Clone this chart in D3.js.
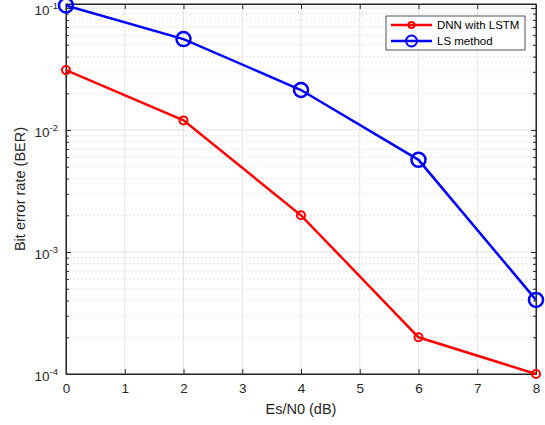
<!DOCTYPE html>
<html><head><meta charset="utf-8">
<script src="https://cdn.jsdelivr.net/npm/d3@7"></script>
<style>body{margin:0;background:#fff;} text{font-family:"Liberation Sans",Arial,Helvetica,sans-serif;}</style>
</head><body>
<svg id="c" width="545" height="425"></svg>
<script>
const snr = [0, 2, 4, 6, 8];
const berDNN = [0.031, 0.012, 0.002, 0.0002, 0.0001];
const berLS = [0.105, 0.0557, 0.0213, 0.0057, 0.000405];
const xTicks = [0,1,2,3,4,5,6,7,8];
const yTicks = [1e-4, 1e-3, 1e-2, 1e-1];
const yExps = ["-4","-3","-2","-1"];
const seriesNames = ["DNN with LSTM", "LS method"];

const svg = d3.select("#c");
const L = 66, R = 536, T = 4, B = 374;
const x = d3.scaleLinear().domain([0, 8]).range([L, R]);
const y = d3.scaleLog().domain([1e-4, 0.108]).range([B, T]);

const axisCol = "#262626";
const g = svg.append("g");

// minor horizontal dotted grid
const minors = [];
for (let e = -4; e <= -1; e++) for (let m = 2; m <= 9; m++) { const v = m * Math.pow(10, e); if (v < 0.108) minors.push(v); }
g.selectAll(".mg").data(minors).enter().append("line")
  .attr("x1", L).attr("x2", R).attr("y1", d => y(d)).attr("y2", d => y(d))
  .attr("stroke", "#d0d0d0").attr("stroke-width", 1).attr("stroke-dasharray", "1,3");
// major grid
g.selectAll(".gx").data(xTicks).enter().append("line")
  .attr("x1", d => x(d)).attr("x2", d => x(d)).attr("y1", T).attr("y2", B)
  .attr("stroke", "#e3e3e3").attr("stroke-width", 1);
g.selectAll(".gy").data(yTicks).enter().append("line")
  .attr("x1", L).attr("x2", R).attr("y1", d => y(d)).attr("y2", d => y(d))
  .attr("stroke", "#e3e3e3").attr("stroke-width", 1);

// axes with inward ticks
const xb = d3.axisBottom(x).tickValues(xTicks).tickSizeInner(-5).tickSizeOuter(0).tickPadding(9).tickFormat(d3.format("d"));
const gxb = svg.append("g").attr("transform", `translate(0,${B})`).call(xb);
gxb.selectAll("text").attr("font-size", 13.5).attr("fill", axisCol).attr("font-family", "'Liberation Sans',Arial,sans-serif");
const xt = d3.axisTop(x).tickValues(xTicks).tickSizeInner(-5).tickSizeOuter(0).tickFormat("");
svg.append("g").attr("transform", `translate(0,${T})`).call(xt);

const yl = d3.axisLeft(y).tickValues(yTicks).tickSizeInner(-5).tickSizeOuter(0).tickFormat("");
svg.append("g").attr("transform", `translate(${L},0)`).call(yl);
const ylm = d3.axisLeft(y).tickValues(minors).tickSizeInner(-3).tickSizeOuter(0).tickFormat("");
svg.append("g").attr("transform", `translate(${L},0)`).call(ylm);
const yr = d3.axisRight(y).tickValues(yTicks).tickSizeInner(-5).tickSizeOuter(0).tickFormat("");
svg.append("g").attr("transform", `translate(${R},0)`).call(yr);
const yrm = d3.axisRight(y).tickValues(minors).tickSizeInner(-3).tickSizeOuter(0).tickFormat("");
svg.append("g").attr("transform", `translate(${R},0)`).call(yrm);
svg.selectAll(".domain").attr("stroke", axisCol);
svg.selectAll(".tick line").attr("stroke", axisCol);

// box
svg.append("rect").attr("x", L).attr("y", T).attr("width", R - L).attr("height", B - T)
  .attr("fill", "none").attr("stroke", axisCol).attr("stroke-width", 1);

// y tick labels
yTicks.forEach((v, i) => {
  const t = svg.append("text").attr("x", L - 8).attr("y", y(v) + 7).attr("text-anchor", "end")
    .attr("fill", axisCol).attr("font-size", 13.5);
  t.append("tspan").text("10");
  t.append("tspan").attr("dy", -6).attr("font-size", 9.5).text(yExps[i]);
});

// labels
svg.append("text").attr("x", (L + R) / 2).attr("y", 414).attr("text-anchor", "middle")
  .attr("font-size", 14.5).attr("fill", axisCol).text("Es/N0 (dB)");
svg.append("text").attr("transform", `translate(25,${(T + B) / 2}) rotate(-90)`).attr("text-anchor", "middle")
  .attr("font-size", 14.5).attr("fill", axisCol).text("Bit error rate (BER)");

// lines
const line = d3.line().x(d => x(d[0])).y(d => y(d[1]));
const dDNN = snr.map((s, i) => [s, berDNN[i]]);
const dLS = snr.map((s, i) => [s, berLS[i]]);
svg.append("path").attr("d", line(dDNN)).attr("fill", "none").attr("stroke", "#ff0000").attr("stroke-width", 2.5);
svg.selectAll(".pr").data(dDNN).enter().append("circle")
  .attr("cx", d => x(d[0])).attr("cy", d => y(d[1])).attr("r", 4)
  .attr("fill", "none").attr("stroke", "#ff0000").attr("stroke-width", 2);
svg.append("path").attr("d", line(dLS)).attr("fill", "none").attr("stroke", "#0000ff").attr("stroke-width", 2.5);
svg.selectAll(".pb").data(dLS).enter().append("circle")
  .attr("cx", d => x(d[0])).attr("cy", d => y(d[1])).attr("r", 7)
  .attr("fill", "none").attr("stroke", "#0000ff").attr("stroke-width", 2.5);

// legend
const lg = svg.append("g");
lg.append("rect").attr("x", 386).attr("y", 16).attr("width", 139).attr("height", 34)
  .attr("fill", "#fff").attr("stroke", axisCol).attr("stroke-width", 0.8);
const cols = ["#ff0000", "#0000ff"], rads = [3, 5.5];
seriesNames.forEach((n, i) => {
  const yy = 25 + i * 16;
  lg.append("line").attr("x1", 391).attr("x2", 432).attr("y1", yy).attr("y2", yy)
    .attr("stroke", cols[i]).attr("stroke-width", 2.5);
  lg.append("circle").attr("cx", 411.5).attr("cy", yy).attr("r", rads[i])
    .attr("fill", "none").attr("stroke", cols[i]).attr("stroke-width", 2);
  lg.append("text").attr("x", 437).attr("y", yy + 4).attr("font-size", 11.5).attr("fill", "#000").text(n);
});
</script>
</body></html>
